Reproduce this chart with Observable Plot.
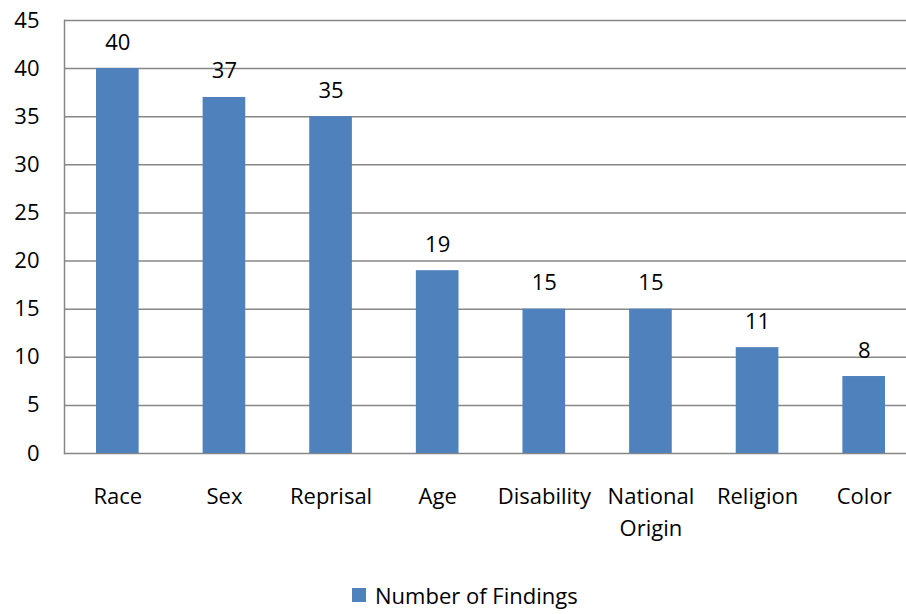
<!DOCTYPE html>
<html>
<head>
<meta charset="utf-8">
<script src="https://cdn.jsdelivr.net/npm/d3@7"></script>
<script src="https://cdn.jsdelivr.net/npm/@observablehq/plot@0.6"></script>
<style>
  html, body { margin: 0; padding: 0; background: #fff; overflow: hidden; }
  #wrap { position: relative; width: 906px; height: 614px; overflow: hidden; font-family: "Open Sans", sans-serif; }
  #chart svg { max-width: none !important; }
  #legend { position: absolute; left: 352px; top: 580px; display: flex; align-items: center; font-size: 22px; color: #000; }
  #legend .sw { width: 14px; height: 14px; background: #4F81BD; margin-right: 9px; }
</style>
</head>
<body>
<div id="wrap">
  <div id="chart"></div>
  <div id="legend"><div class="sw"></div><span>Number of Findings</span></div>
</div>
<script>
const categories = ["Race", "Sex", "Reprisal", "Age", "Disability", "National\nOrigin", "Religion", "Color"];
const findings = [40, 37, 35, 19, 15, 15, 11, 8];
const yTicks = [0, 5, 10, 15, 20, 25, 30, 35, 40, 45];
const seriesName = "Number of Findings";

const data = categories.map((c, i) => ({category: c, value: findings[i]}));

const chart = Plot.plot({
  width: 917,
  height: 575,
  marginTop: 20,
  marginBottom: 122,
  marginLeft: 64,
  marginRight: 0,
  style: {fontFamily: "Open Sans, sans-serif", fontSize: "22px", color: "#000", background: "#fff", overflow: "visible"},
  x: {domain: categories, paddingInner: 0.6, paddingOuter: 0.3, round: false, label: null},
  y: {domain: [0, 45], label: null},
  marks: [
    Plot.gridY(yTicks, {stroke: "#878787", strokeOpacity: 1, strokeWidth: 1.5}),
    Plot.barY(data, {x: "category", y: "value", fill: "#4F81BD"}),
    Plot.frame({anchor: "left", stroke: "#878787", strokeWidth: 1.5}),
    Plot.text(data, {x: "category", y: "value", text: d => String(d.value), lineAnchor: "bottom", dy: -19, fill: "#000", fontSize: 22}),
    Plot.axisY({ticks: yTicks, tickSize: 0, tickPadding: 25, label: null, fontSize: 22}),
    Plot.axisX({tickSize: 0, tickPadding: 28, label: null, fontSize: 22, lineHeight: 1.45})
  ]
});
document.getElementById("chart").appendChild(chart);
</script>
</body>
</html>
